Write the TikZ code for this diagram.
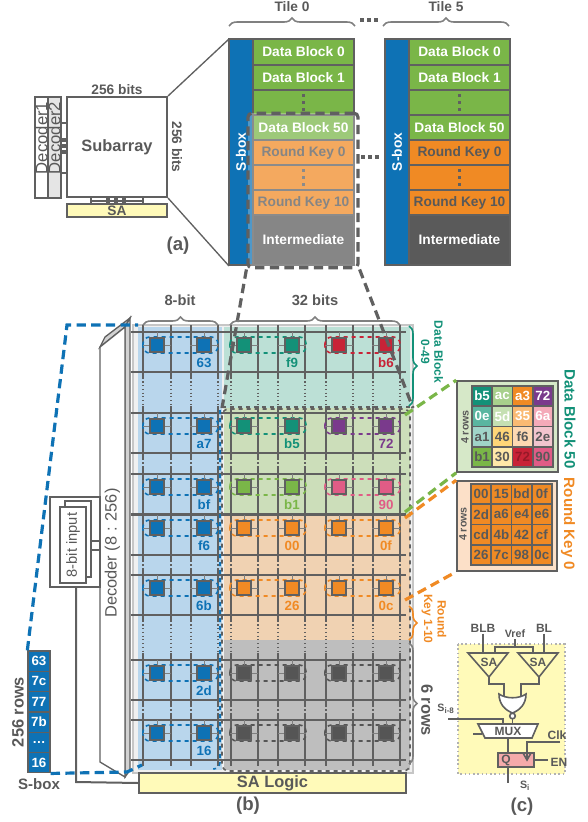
\documentclass[tikz,border=0pt]{standalone}
\usepackage{fontspec}
\setmainfont{Liberation Sans}
\usetikzlibrary{decorations.pathreplacing}

\definecolor{txtgray}{RGB}{89,89,89}
\definecolor{linegray}{RGB}{96,96,96}
\definecolor{sboxblue}{RGB}{14,114,181}
\definecolor{dbgreen}{RGB}{122,182,72}
\definecolor{rkorange}{RGB}{240,138,36}
\definecolor{intgray}{RGB}{90,90,90}
\definecolor{cellgray}{RGB}{85,85,85}
\definecolor{tealc}{RGB}{19,145,120}
\definecolor{redc}{RGB}{200,35,55}
\definecolor{purplec}{RGB}{122,58,140}
\definecolor{pinkc}{RGB}{224,92,134}
\definecolor{bgblue}{RGB}{185,214,236}
\definecolor{bgteal}{RGB}{188,224,214}
\definecolor{bggreen}{RGB}{204,222,186}
\definecolor{bgorange}{RGB}{240,210,178}
\definecolor{bggray}{RGB}{190,190,190}
\definecolor{sayellow}{RGB}{255,250,185}
\definecolor{ffpink}{RGB}{244,170,170}
\definecolor{dbboxbg}{RGB}{214,232,200}
\definecolor{rkboxbg}{RGB}{252,224,200}
\definecolor{dbb}{RGB}{168,208,140}
\definecolor{dbe}{RGB}{90,182,160}
\definecolor{dbf}{RGB}{197,224,178}
\definecolor{dbg}{RGB}{250,186,115}
\definecolor{dbh}{RGB}{244,170,185}
\definecolor{dbi}{RGB}{160,212,200}
\definecolor{dbj}{RGB}{255,214,120}
\definecolor{dbk}{RGB}{253,217,178}
\definecolor{dbl}{RGB}{242,196,206}
\definecolor{dbn}{RGB}{255,232,168}
\definecolor{dbotxt}{RGB}{150,25,40}

\tikzset{every picture/.style={line width=0.75pt}}

\begin{document}
\begin{tikzpicture}[x=0.75pt,y=0.75pt,yscale=-1,xscale=1,
  lbl/.style={inner sep=0.75pt, text=txtgray, font=\fontsize{10.3}{12}\selectfont\bfseries},
  smalllbl/.style={inner sep=0.75pt, text=txtgray, font=\fontsize{9}{10}\selectfont\bfseries},
  biglbl/.style={inner sep=0.75pt, text=txtgray, font=\fontsize{12.3}{14}\selectfont\bfseries},
  plainlbl/.style={inner sep=0.75pt, text=txtgray, font=\fontsize{12.3}{14}\selectfont},
  tag/.style={inner sep=0.75pt, text=txtgray, font=\fontsize{14}{16}\selectfont\bfseries},
  celllbl/.style={inner sep=0pt, font=\fontsize{10}{12}\selectfont\bfseries},
  wl/.style={draw=linegray, line width=2.2pt},
  xline/.style={draw=linegray!80, line width=0.6pt},
  zoomdash/.style={draw=linegray, line width=2.4pt, dash pattern=on 7pt off 4pt},
  bluedash/.style={draw=sboxblue, line width=2.4pt, dash pattern=on 7pt off 4pt},
  greendash/.style={draw=dbgreen, line width=2.4pt, dash pattern=on 7pt off 4pt},
  orangedash/.style={draw=rkorange, line width=2.4pt, dash pattern=on 7pt off 4pt},
  bracegray/.style={decorate, decoration={brace, amplitude=6pt}, line width=1.2pt},
  gridcell/.style={draw=linegray, line width=1.2pt, minimum size=15.2pt, inner sep=0pt, font=\fontsize{10}{12}\selectfont\bfseries},
  sbcell/.style={draw=linegray, fill=sboxblue, text=white, line width=1pt, minimum width=16.5pt, minimum height=15.2pt, inner sep=0pt, font=\fontsize{10}{12}\selectfont\bfseries},
  wire/.style={draw=linegray, line width=1.2pt}
]
\useasboundingbox (0,0) rectangle (588,822);

%%%%%%%%%%%%%%%% (a) subarray
% Decoders
\draw[linegray, line width=1.2pt] (35,97) rectangle (48,198);
\draw[linegray, fill=gray!20, line width=1.2pt] (48,97) rectangle (61,198);
\node[plainlbl, font=\fontsize{12.5}{13}\selectfont, rotate=90] (dec1) at (41.5,138) {Decoder1};
\node[plainlbl, font=\fontsize{12.5}{13}\selectfont, rotate=90] (dec2) at (54.5,138) {Decoder2};
\draw[wire] (61,123) -- (67,123) (61,173) -- (67,173);
\foreach \yy in {140,146,152}
  \fill[linegray] (61,\yy-2) rectangle (67,\yy+2);
% Subarray
\node[draw=linegray, line width=1.5pt, minimum width=75pt, minimum height=75pt, biglbl] (subarray) at (117,147) {Subarray};
\node[lbl] (bitstop) at (117,90) {256 bits};
\node[lbl, rotate=-90] (bitsright) at (177,147) {256 bits};
% SA
\node[draw=linegray, fill=sayellow, line width=1.2pt, minimum width=75pt, minimum height=9.75pt, lbl] (sa) at (117,210.5) {SA};
\draw[wire] (91,197) -- (91,204) (143,197) -- (143,204) (91,201) -- (143,201);
\foreach \xx in {108,116,124}
  \fill[linegray] (\xx-2,197) rectangle (\xx+2,204);
\node[tag] (taga) at (178,246) {(a)};

%%%%%%%%%%%%%%%% tiles
\foreach \tx/\tn in {229/0,385/5}{
  \fill[sboxblue] (\tx,39) rectangle (\tx+24,265);
  \node[lbl, text=white, rotate=90] (sbox\tn) at (\tx+12,152) {S-box};
  \foreach \ya/\yb/\fc/\tc/\lab [count=\i] in {39/65/dbgreen/white/Data Block 0, 65/90/dbgreen/white/Data Block 1, 90/115/dbgreen/white/, 115/140/dbgreen/white/Data Block 50, 140/165/rkorange/txtgray/Round Key 0, 165/190/rkorange/txtgray/, 190/215/rkorange/txtgray/Round Key 10, 215/265/intgray/white/Intermediate}{
    \draw[linegray, line width=1.2pt, fill=\fc] (\tx+24,\ya) rectangle (\tx+125,\yb);
    \node[lbl, text=\tc] (t\tn-r\i) at (\tx+74.5,{(\ya+\yb)/2}) {\lab};
  }
  \foreach \yd in {102.5,177.5}
    \foreach \dd in {-7,0,7}
      \fill[linegray] (\tx+73,\yd+\dd-1.7) rectangle (\tx+76.4,\yd+\dd+1.7);
  \draw[linegray, line width=1.2pt] (\tx,39) rectangle (\tx+125,265);
  \coordinate (tile\tn-nw) at (\tx,39);
  \coordinate (tile\tn-sw) at (\tx,266);
}
% Tile braces
\draw[bracegray, draw=linegray!80] (229,26) -- (355,26);
\draw[bracegray, draw=linegray!80] (383,26) -- (509,26);
\node[lbl] (tile0) at (292,7) {Tile 0};
\node[lbl] (tile5) at (446,7) {Tile 5};
\foreach \xx in {362,369,376}{
  \fill[linegray] (\xx-1.8,18) rectangle (\xx+1.8,22);
  \fill[linegray] (\xx+1-1.8,155) rectangle (\xx+1+1.8,159);
}
% zoomed region of tile 0
\fill[white, opacity=0.27] (248,113) rectangle (358,268);
\node[zoomdash, rounded corners=3pt, minimum width=82.5pt, minimum height=116pt, inner sep=0pt] (zoombox) at (303,190.5) {};
\draw[linegray, line width=1pt] (subarray.north east) -- (tile0-nw);
\draw[linegray, line width=1pt] (subarray.south east) -- (tile0-sw);

%%%%%%%%%%%%%%%% (b) array
\fill[gray!12] (133,325) rectangle (413,773);
\draw[gray!45, line width=1pt] (133,325) rectangle (413,773);
\fill[bgblue] (138,327) rectangle (222,770);
\fill[bgteal] (224,327) rectangle (410,408);
\fill[bggreen] (224,408) rectangle (410,515);
\fill[bgorange] (224,515) rectangle (410,640);
\fill[bggray] (224,640) rectangle (410,770);

% word lines, bit lines and cells
\foreach \c/\lb/\la/\lc/\ca/\cb in {345/63/f9/b6/tealc/redc, 426/a7/b5/72/tealc/purplec, 487/bf/b1/90/dbgreen/pinkc, 528/f6/00/0f/rkorange/rkorange, 588/6b/26/0c/rkorange/rkorange, 673/2d///cellgray/cellgray, 733/16///cellgray/cellgray}{
  \draw[wl] (131,\c-13) -- (406,\c-13) (131,\c+27) -- (406,\c+27);
  \foreach \x in {143,171,191,218,231,258,278,305,326,353,373,400}
    \draw[wl] (\x,\c-20) -- (\x,\c+33);
  \foreach \xl/\xr/\col/\lab in {157/204/sboxblue/\lb, 244/292/\ca/\la, 339/386/\cb/\lc}{
    \draw[draw=\col, dashed, line width=1.2pt, rounded corners=5pt] (\xl-14,\c-8) rectangle (\xr+14,\c+8);
    \foreach \x in {\xl,\xr}{
      \draw[xline] (\x-14,\c) -- (\x+14,\c) (\x,\c-13) -- (\x,\c);
      \draw[draw=linegray, fill=\col, line width=1pt] (\x-7,\c-7) rectangle (\x+7,\c+7);
    }
    \node[celllbl, text=\col] (lab\c-\xr) at (\xr,\c+18) {\lab};
  }
}
% skipped rows
\foreach \ga/\gb in {372/413, 453/473, 555/575, 615/660, 700/720}
  \foreach \x in {143,171,191,218,231,258,278,305,326,353,373,400}
    \draw[linegray, dotted, line width=0.8pt] (\x,\ga+2) -- (\x,\gb-2);

% region outlines
\draw[linegray, dashed, line width=1.2pt] (222,407) -- (411,407);
\draw[linegray, dashed, line width=1.2pt, rounded corners=5pt] (222,409) rectangle (410,771);
\draw[sboxblue, dashed, line width=1.2pt, rounded corners=5pt] (220,410) -- (220,769) -- (214,769);
\coordinate (grid-l) at (222,408);
\coordinate (grid-r) at (413,408);
\draw[zoomdash] (zoombox.south west) -- (grid-l);
\draw[zoomdash] (zoombox.south east) -- (grid-r);

% column braces
\draw[bracegray, draw=linegray!80] (143,325) -- (218,325);
\draw[bracegray, draw=linegray!80] (230,325) -- (400,325);
\node[lbl, font=\fontsize{11}{12}\selectfont\bfseries] (bits8) at (180,300) {8-bit};
\node[lbl, font=\fontsize{11}{12}\selectfont\bfseries] (bits32) at (315,300) {32 bits};

% row braces
\draw[bracegray, draw=tealc] (409,326) -- (409,406);
\node[smalllbl, text=tealc, rotate=-90, align=center] (db049) at (432,352) {Data Block\\0-49};
\draw[bracegray, draw=rkorange] (409,606) -- (409,640);
\node[smalllbl, text=rkorange, rotate=-90, align=center] (rk110) at (434,619) {Round\\Key 1-10};
\draw[bracegray, draw=linegray!80] (409,643) -- (409,764);
\node[biglbl, rotate=-90] (rows6) at (427,710) {6 rows};

% decoder
\draw[linegray, fill=gray!35, line width=1pt] (100,347) -- (105,337) -- (130,318) -- (125,327) -- cycle;
\draw[linegray, fill=gray!35, line width=1pt] (125,327) -- (130,318) -- (130,770) -- (125,777) -- cycle;
\draw[linegray, fill=white, line width=1pt] (100,347) -- (125,327) -- (125,777) -- (100,762) -- cycle;
\node[plainlbl, rotate=90] (decoder) at (112.5,553) {Decoder (8 : 256)};

% 8-bit input
\node[draw=linegray, line width=1pt, minimum width=37.5pt, minimum height=67.5pt, inner sep=0pt] (inbox) at (75,542) {};
\draw[linegray, fill=white, line width=1pt] (65,501) rectangle (91,577);
\draw[linegray, fill=white, line width=1pt] (60,507) rectangle (86,583);
\node[plainlbl, font=\fontsize{11}{12}\selectfont, rotate=90] (bitin) at (73,545) {8-bit input};
\draw[linegray, line width=1pt] (91,541) -- (100,541) (91,550) -- (100,550);

% SA logic
\node[draw=linegray, fill=sayellow, line width=1.2pt, minimum width=200.25pt, minimum height=15pt, biglbl] (salogic) at (272.5,783) {SA Logic};
\draw[linegray, line width=1.5pt] (76,587) -- (76,782) -- (salogic.west);
\node[tag] (tagb) at (248,806) {(b)};

% S-box column
\foreach \v [count=\k] in {63,7c,77,7b,\ldots,16}
  \node[sbcell] (sb\k) at (39,{651+20.3*\k-10.15}) {\v};
\node[biglbl, rotate=90] (rows256) at (18,712) {256 rows};
\node[lbl, font=\fontsize{11.3}{12}\selectfont\bfseries] (sboxlbl) at (39,784) {S-box};
\coordinate (sbt1) at (67,325);
\coordinate (sbt2) at (138,325);
\coordinate (sbb1) at (127,772);
\coordinate (sbb2) at (142,765);
\draw[bluedash] (sb1.north west) -- (sbt1) -- (sbt2);
\draw[bluedash] (sb6.south east) -- (sbb1) -- (sbb2);

%%%%%%%%%%%%%%%% zoomed blocks
\node[draw=linegray, fill=dbboxbg, line width=1.2pt, minimum width=75.75pt, minimum height=68.25pt] (db50box) at (507.5,426.5) {};
\node[draw=linegray, fill=rkboxbg, line width=1.2pt, minimum width=75pt, minimum height=67.5pt] (rk0box) at (507,526) {};
\foreach \t/\fc/\tc [count=\k from 0] in {b5/tealc/white, ac/dbb/white, a3/rkorange/white, 72/purplec/white, 0e/dbe/white, 5d/dbf/white, 35/dbg/white, 6a/dbh/white, a1/dbi/txtgray, 46/dbj/txtgray, f6/dbk/txtgray, 2e/dbl/txtgray, b1/dbgreen/txtgray, 30/dbn/txtgray, 72/redc/dbotxt, 90/pinkc/txtgray}{
  \pgfmathtruncatemacro\rr{floor(\k/4)}
  \pgfmathtruncatemacro\cc{mod(\k,4)}
  \node[gridcell, fill=\fc, text=\tc] (db\k) at ({472+20.25*\cc+10.125},{386+20.25*\rr+10.125}) {\t};
}
\foreach \t [count=\k from 0] in {00,15,bd,0f,2d,a6,e4,e6,cd,4b,42,cf,26,7c,98,0c}{
  \pgfmathtruncatemacro\rr{floor(\k/4)}
  \pgfmathtruncatemacro\cc{mod(\k,4)}
  \node[gridcell, fill=rkorange, text=txtgray] (rk\k) at ({471+20.25*\cc+10.125},{484+20.25*\rr+10.125}) {\t};
}
\node[lbl, font=\fontsize{8}{9}\selectfont\bfseries, rotate=90] (rows4a) at (465,427) {4 rows};
\node[lbl, font=\fontsize{8}{9}\selectfont\bfseries, rotate=90] (rows4b) at (463,524) {4 rows};
\node[biglbl, font=\fontsize{11.3}{12}\selectfont\bfseries, text=tealc, rotate=-90] (db50lbl) at (570,419) {Data Block 50};
\node[biglbl, font=\fontsize{11.3}{12}\selectfont\bfseries, text=rkorange, rotate=-90] (rk0lbl) at (568,524) {Round Key 0};
\coordinate (db-a) at (405,415);
\coordinate (db-b) at (405,512);
\coordinate (rk-a) at (405,518);
\coordinate (rk-b) at (405,600);
\draw[greendash] (db-a) -- (db50box.north west);
\draw[greendash] (db-b) -- (db50box.south west);
\draw[orangedash] (rk-a) -- (rk0box.north west);
\draw[orangedash] (rk-b) -- (rk0box.south west);

%%%%%%%%%%%%%%%% (c) SA logic cell
\draw[fill=sayellow, draw=gray!60, dotted, line width=1.2pt] (458,644) rectangle (565,774);
\node[smalllbl] (blb) at (483,628) {BLB};
\node[smalllbl] (bl) at (544,628) {BL};
\node[smalllbl, font=\fontsize{8}{9}\selectfont\bfseries] (vref) at (515,634) {Vref};
\draw[wire] (blb.south) -- (483,653);
\draw[wire] (bl.south) -- (544,653);
\draw[wire] (vref.south) -- (515,647) (495,653) -- (495,647) -- (533,647) -- (533,653);
\draw[wire] (468,653) -- (508,653) -- (489,677) -- cycle;
\draw[wire] (518,653) -- (558,653) -- (539,677) -- cycle;
\node[smalllbl] (sa1) at (489,662) {SA};
\node[smalllbl] (sa2) at (538,662) {SA};
\draw[wire] (489,677) -- (489,684) -- (504,684) -- (504,697);
\draw[wire] (539,677) -- (539,684) -- (521,684) -- (521,697);
\draw[wire, fill=white] (499,694) .. controls (506,699) and (519,699) .. (526,694) .. controls (526,704) and (520,710) .. (512.5,713) .. controls (505,710) and (499,704) .. (499,694) -- cycle;
\draw[wire, fill=white] (512.5,716) circle (2.8);
\draw[wire] (512.5,718.8) -- (512.5,724);
\node[lbl, font=\fontsize{8}{9}\selectfont\bfseries] (si8) at (446,709) {S\textsubscript{i-8}};
\draw[wire] (448,719) -- (503,719) -- (503,724);
\draw[wire, fill=white] (478,724) -- (538,724) -- (532,738) -- (485,738) -- cycle;
\node[smalllbl] (mux) at (508,731) {MUX};
\draw[wire] (473,734) -- (482,734);
\draw[wire] (508,738) -- (508,753);
\node[draw=linegray, fill=ffpink, line width=1.2pt, minimum width=27pt, minimum height=10.5pt, inner sep=0pt] (ff) at (516,760) {};
\node[smalllbl] (q) at (506,760) {Q};
\node[smalllbl] (clk) at (557,735) {Clk};
\draw[wire] (560,742) -- (527,742) -- (527,760);
\draw[wire] (523,753) -- (527,760) -- (531,753);
\node[smalllbl] (en) at (559,762) {EN};
\draw[wire] (ff.east) -- (548,760);
\node[lbl, font=\fontsize{8}{9}\selectfont\bfseries] (si) at (525,786) {S\textsubscript{i}};
\coordinate (ffout) at (508,767);
\draw[wire] (ffout) -- (508,783);
\node[tag] (tagc) at (522,807) {(c)};
\end{tikzpicture}
\end{document}
